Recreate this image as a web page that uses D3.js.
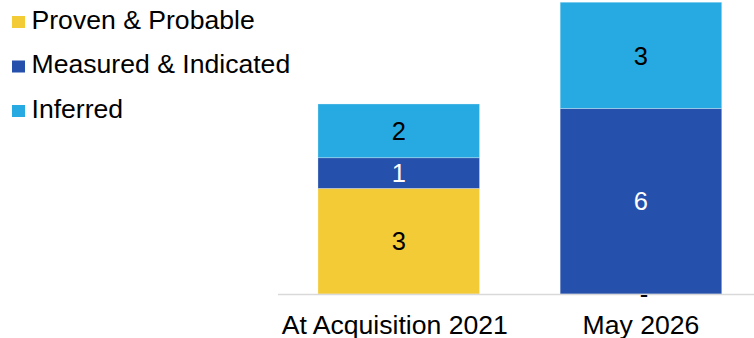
<!DOCTYPE html>
<html>
<head>
<meta charset="utf-8">
<script src="https://cdn.jsdelivr.net/npm/d3@7"></script>
<style>
  html, body { margin: 0; padding: 0; background: #ffffff; }
  svg { display: block; font-family: "Liberation Sans", Arial, sans-serif; }
</style>
</head>
<body>
<svg id="chart" width="754" height="338"></svg>
<script>
// Reserve categories and their resource estimates (stacked bottom to top)
const categories = ["At Acquisition 2021", "May 2026"];
const seriesNames = ["Proven & Probable", "Measured & Indicated", "Inferred"];
const provenProbable = [3.3, 0];
const measuredIndicated = [0.96, 5.8];
const inferred = [1.68, 3.32];
const seriesColors = ["#f3cb37", "#2551ac", "#26aae1"];
const labelColors = ["#000000", "#ffffff", "#000000"];

const svg = d3.select("#chart");
const W = 754, H = 338;
const baseY = 294;

const table = categories.map((c, i) => ({
  category: c,
  "Proven & Probable": provenProbable[i],
  "Measured & Indicated": measuredIndicated[i],
  "Inferred": inferred[i]
}));

const stacked = d3.stack().keys(seriesNames)(table);

const x = d3.scaleBand()
  .domain(categories)
  .range([278, 761.7])
  .paddingInner(0.333)
  .paddingOuter(0.165);

const y = d3.scaleLinear()
  .domain([0, 9.19])
  .range([baseY, 0]);

const color = d3.scaleOrdinal().domain(seriesNames).range(seriesColors);
const labelColor = d3.scaleOrdinal().domain(seriesNames).range(labelColors);
const fmt = v => v === 0 ? "-" : d3.format(".0f")(v);

// Bars
const layers = svg.append("g").selectAll("g")
  .data(stacked)
  .join("g")
  .attr("fill", d => color(d.key));

layers.selectAll("rect")
  .data(d => d.map(p => ({ key: d.key, p })))
  .join("rect")
  .attr("x", d => x(d.p.data.category))
  .attr("width", x.bandwidth())
  .attr("y", d => y(d.p[1]))
  .attr("height", d => y(d.p[0]) - y(d.p[1]))
  .attr("stroke", "#ffffff")
  .attr("stroke-opacity", 0.35)
  .attr("stroke-width", 0.8);

// Category axis line and labels
const xAxis = d3.axisBottom(x).tickSize(0).tickPadding(21);
const axisG = svg.append("g")
  .attr("transform", `translate(0,${baseY})`)
  .call(xAxis);
axisG.select(".domain")
  .attr("d", `M${x.range()[0]},0.5H${W}`)
  .attr("stroke", "#d9d9d9")
  .attr("stroke-width", 1.5);
axisG.selectAll(".tick text")
  .attr("font-size", 26.6)
  .attr("font-family", "Liberation Sans, Arial, sans-serif")
  .attr("fill", "#000000")
  .attr("dx", (d, i) => i === 0 ? -4 : 0)
  .attr("dy", "0.71em");

// Value labels inside each segment; an empty segment shows a dash at the baseline
svg.append("g").selectAll("g")
  .data(stacked)
  .join("g")
  .selectAll("text")
  .data(d => d.map(p => ({ key: d.key, p })))
  .join("text")
  .attr("x", d => x(d.p.data.category) + x.bandwidth() / 2)
  .attr("y", d => (y(d.p[0]) + y(d.p[1])) / 2)
  .attr("dx", d => d.p[1] - d.p[0] === 0 ? 3 : 0)
  .attr("dy", d => d.p[1] - d.p[0] === 0 ? "0.34em" : "0.36em")
  .attr("text-anchor", "middle")
  .attr("font-size", 25.5)
  .attr("fill", d => d.p[1] - d.p[0] === 0 ? "#000000" : labelColor(d.key))
  .text(d => fmt(d.p[1] - d.p[0]));

// Legend
const legend = svg.append("g").selectAll("g")
  .data(seriesNames)
  .join("g")
  .attr("transform", (d, i) => `translate(12,${28.5 + i * 44.5})`);
legend.append("rect")
  .attr("x", 0)
  .attr("y", -12.5)
  .attr("width", 13)
  .attr("height", 12)
  .attr("fill", d => color(d));
legend.append("text")
  .attr("x", 19.5)
  .attr("y", 0)
  .attr("font-size", 26.6)
  .attr("fill", "#000000")
  .text(d => d);
</script>
</body>
</html>
